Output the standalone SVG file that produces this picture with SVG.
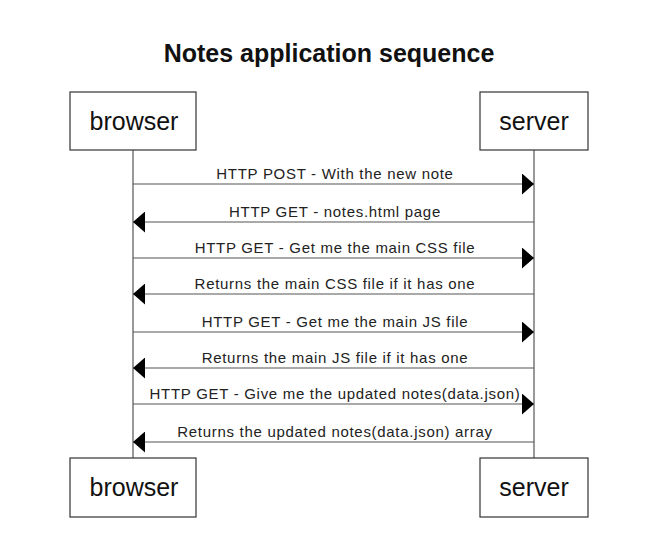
<svg xmlns="http://www.w3.org/2000/svg" width="652" height="548" viewBox="0 0 652 548">
<defs>
<style>
.box{fill:#fff;stroke:#333;stroke-width:1.2}
.life{stroke:#555;stroke-width:1.2;fill:none}
.msg{stroke:#555;stroke-width:1.2;fill:none}
.lbl{font-family:"Liberation Sans",Arial,sans-serif;font-size:15px;letter-spacing:0.7px;fill:#222;text-anchor:middle}
.nt{font-family:"Liberation Sans",Arial,sans-serif;font-size:25px;fill:#111;text-anchor:middle}
.title{font-family:"Liberation Sans",Arial,sans-serif;font-size:25px;font-weight:bold;fill:#111;text-anchor:middle}
</style>
<marker id="ah" viewBox="0 0 12 21" refX="12" refY="10.5" markerWidth="12" markerHeight="21" markerUnits="userSpaceOnUse" orient="auto">
<path d="M0,0 L12,10.5 L0,21 Z" fill="#000"/>
</marker>
</defs>
<rect width="652" height="548" fill="#fff"/>
<text class="title" x="329" y="62">Notes application sequence</text>
<g id="lifelines">
<line class="life" x1="133" y1="150" x2="133" y2="458"/>
<line class="life" x1="534" y1="150" x2="534" y2="458"/>
</g>
<g id="browser-top"><rect class="box" x="70" y="92" width="126" height="58"/><text class="nt" x="134" y="130">browser</text></g>
<g id="server-top"><rect class="box" x="480" y="92" width="108" height="58"/><text class="nt" x="534" y="130">server</text></g>
<g id="browser-bottom"><rect class="box" x="70" y="458" width="126" height="59"/><text class="nt" x="134" y="496">browser</text></g>
<g id="server-bottom"><rect class="box" x="480" y="458" width="108" height="59"/><text class="nt" x="534" y="496">server</text></g>
<g id="connectors">
<line class="msg" x1="133" y1="184" x2="534" y2="184" marker-end="url(#ah)"/>
<line class="msg" x1="534" y1="222" x2="133" y2="222" marker-end="url(#ah)"/>
<line class="msg" x1="133" y1="258" x2="534" y2="258" marker-end="url(#ah)"/>
<line class="msg" x1="534" y1="294" x2="133" y2="294" marker-end="url(#ah)"/>
<line class="msg" x1="133" y1="332" x2="534" y2="332" marker-end="url(#ah)"/>
<line class="msg" x1="534" y1="368" x2="133" y2="368" marker-end="url(#ah)"/>
<line class="msg" x1="133" y1="404" x2="534" y2="404" marker-end="url(#ah)"/>
<line class="msg" x1="534" y1="442" x2="133" y2="442" marker-end="url(#ah)"/>
</g>
<g id="labels">
<text class="lbl" x="335" y="179">HTTP POST - With the new note</text>
<text class="lbl" x="335" y="217">HTTP GET - notes.html page</text>
<text class="lbl" x="335" y="253">HTTP GET - Get me the main CSS file</text>
<text class="lbl" x="335" y="289">Returns the main CSS file if it has one</text>
<text class="lbl" x="335" y="327">HTTP GET - Get me the main JS file</text>
<text class="lbl" x="335" y="363">Returns the main JS file if it has one</text>
<text class="lbl" x="335" y="399">HTTP GET - Give me the updated notes(data.json)</text>
<text class="lbl" x="335" y="437">Returns the updated notes(data.json) array</text>
</g>
</svg>
